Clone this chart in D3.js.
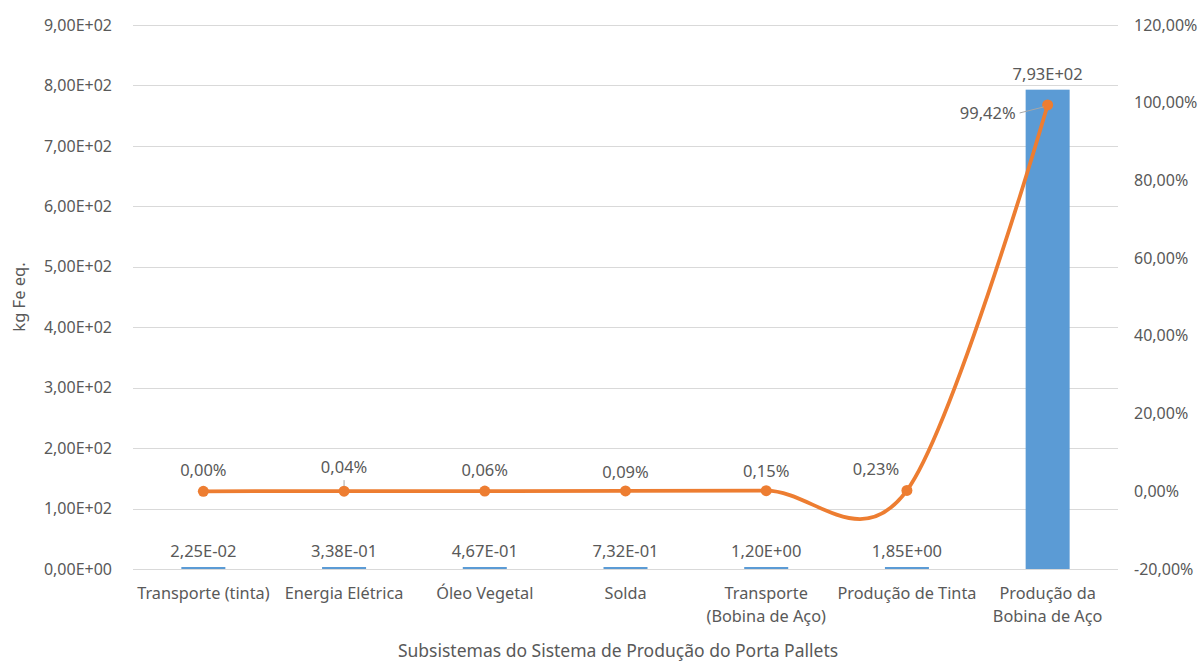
<!DOCTYPE html>
<html>
<head>
<meta charset="utf-8">
<script src="https://cdn.jsdelivr.net/npm/d3@7"></script>
<style>
  body { margin: 0; background: #fff; }
  text { font-family: "Noto Sans", sans-serif; fill: #595959; }
</style>
</head>
<body>
<svg id="chart" width="1203" height="662"></svg>
<script>
var categories = ["Transporte (tinta)", "Energia Elétrica", "Óleo Vegetal", "Solda",
    "Transporte\n(Bobina de Aço)", "Produção de Tinta", "Produção da\nBobina de Aço"];
var values = [0.0225, 0.338, 0.467, 0.732, 1.20, 1.85, 793];
var percents = [0.00, 0.04, 0.06, 0.09, 0.15, 0.23, 99.42];
var leftTicks = [0, 100, 200, 300, 400, 500, 600, 700, 800, 900];
var rightTicks = [-20, 0, 20, 40, 60, 80, 100, 120];

var svg = d3.select("#chart");
var mLeft = 133, mRight = 1118, mTop = 25, mBottom = 569;
var fs = "16px", fsLab = "16.5px";

var x = d3.scaleBand().domain(d3.range(categories.length)).range([mLeft, mRight]);
var y = d3.scaleLinear().domain([0, 900]).range([mBottom, mTop]);
var y2 = d3.scaleLinear().domain([-20, 120]).range([mBottom, mTop]);

function sci(v) {
    var s = v.toExponential(2).split("e");
    var exp = parseInt(s[1], 10);
    var e = (exp < 0 ? "-" : "+") + (Math.abs(exp) < 10 ? "0" : "") + Math.abs(exp);
    return s[0].replace(".", ",") + "E" + e;
}
function pct(v) { return v.toFixed(2).replace(".", ",") + "%"; }

// gridlines
svg.append("g").selectAll("line")
    .data(leftTicks)
    .enter().append("line")
    .attr("x1", mLeft).attr("x2", mRight)
    .attr("y1", function(d) { return Math.round(y(d)) + 0.5; })
    .attr("y2", function(d) { return Math.round(y(d)) + 0.5; })
    .attr("stroke", "#d9d9d9").attr("stroke-width", 1);

// left axis
var la = svg.append("g").attr("transform", "translate(" + (mLeft - 18) + ",0)")
    .call(d3.axisLeft(y).tickValues(leftTicks).tickFormat(sci).tickSize(0));
la.select(".domain").remove();
la.selectAll("text").style("font-size", fs).attr("fill", "#595959")
    .style("font-family", "'Noto Sans', sans-serif");

// right axis
var ra = svg.append("g").attr("transform", "translate(" + (mRight + 16) + ",0)")
    .call(d3.axisRight(y2).tickValues(rightTicks).tickFormat(function(d) { return pct(d); }).tickSize(0));
ra.select(".domain").remove();
ra.selectAll("text").style("font-size", fs).attr("fill", "#595959").attr("x", 0)
    .style("font-family", "'Noto Sans', sans-serif");

// bars
var bw = 44;
svg.append("g").selectAll("rect")
    .data(values)
    .enter().append("rect")
    .attr("x", function(d, i) { return x(i) + x.bandwidth() / 2 - bw / 2; })
    .attr("width", bw)
    .attr("y", function(d) { return Math.min(y(d), mBottom - 2); })
    .attr("height", function(d) { return Math.max(mBottom - y(d), 2); })
    .attr("fill", "#5b9bd5");

// bar labels
svg.append("g").selectAll("text")
    .data(values)
    .enter().append("text")
    .attr("x", function(d, i) { return x(i) + x.bandwidth() / 2; })
    .attr("y", function(d) { return Math.min(y(d), mBottom - 2) - 10; })
    .attr("text-anchor", "middle")
    .style("font-size", fsLab)
    .text(sci);

// line
var cx = function(d, i) { return x(i) + x.bandwidth() / 2; };
var line = d3.line()
    .x(cx)
    .y(function(d) { return y2(d); })
    .curve(d3.curveCardinal.tension(0));
svg.append("path")
    .datum(percents)
    .attr("d", line)
    .attr("fill", "none")
    .attr("stroke", "#ed7d31")
    .attr("stroke-width", 3.75)
    .attr("stroke-linecap", "round");

svg.append("g").selectAll("circle")
    .data(percents)
    .enter().append("circle")
    .attr("cx", cx)
    .attr("cy", function(d) { return y2(d); })
    .attr("r", 5.5)
    .attr("fill", "#ed7d31");

// percent labels (offsets relative to point)
var labelOffsets = [[0, -15], [0, -18], [0, -15], [0, -13], [0, -14], [-31, -15], [-32, 14]];
var pl = svg.append("g");
pl.selectAll("text")
    .data(percents)
    .enter().append("text")
    .attr("x", function(d, i) { return cx(d, i) + labelOffsets[i][0]; })
    .attr("y", function(d, i) { return y2(d) + labelOffsets[i][1]; })
    .attr("text-anchor", function(d, i) { return i === 6 ? "end" : "middle"; })
    .style("font-size", fsLab)
    .text(pct);
// leader lines
pl.append("line")
    .attr("x1", cx(0, 1)).attr("x2", cx(0, 1))
    .attr("y1", y2(percents[1]) - 11).attr("y2", y2(percents[1]) - 5)
    .attr("stroke", "#a6a6a6");
pl.append("line")
    .attr("x1", cx(0, 6) - 28).attr("y1", y2(percents[6]) + 8)
    .attr("x2", cx(0, 6) - 4).attr("y2", y2(percents[6]) + 2)
    .attr("stroke", "#a6a6a6");

// category labels
svg.append("g").selectAll("text")
    .data(categories)
    .enter().append("text")
    .attr("text-anchor", "middle")
    .style("font-size", "16.3px")
    .attr("transform", function(d, i) { return "translate(" + (x(i) + x.bandwidth() / 2) + "," + (mBottom + 30) + ")"; })
    .each(function(d) {
        var t = d3.select(this);
        d.split("\n").forEach(function(s, k) {
            t.append("tspan").attr("x", 0).attr("dy", k ? 23 : 0).text(s);
        });
    });

// axis titles
svg.append("text")
    .attr("transform", "translate(25," + ((mTop + mBottom) / 2) + ") rotate(-90)")
    .attr("text-anchor", "middle")
    .style("font-size", "16.5px")
    .text("kg Fe eq.");
svg.append("text")
    .attr("x", 618).attr("y", 657)
    .attr("text-anchor", "middle")
    .style("font-size", "17.5px")
    .text("Subsistemas do Sistema de Produção do Porta Pallets");
</script>
</body>
</html>
